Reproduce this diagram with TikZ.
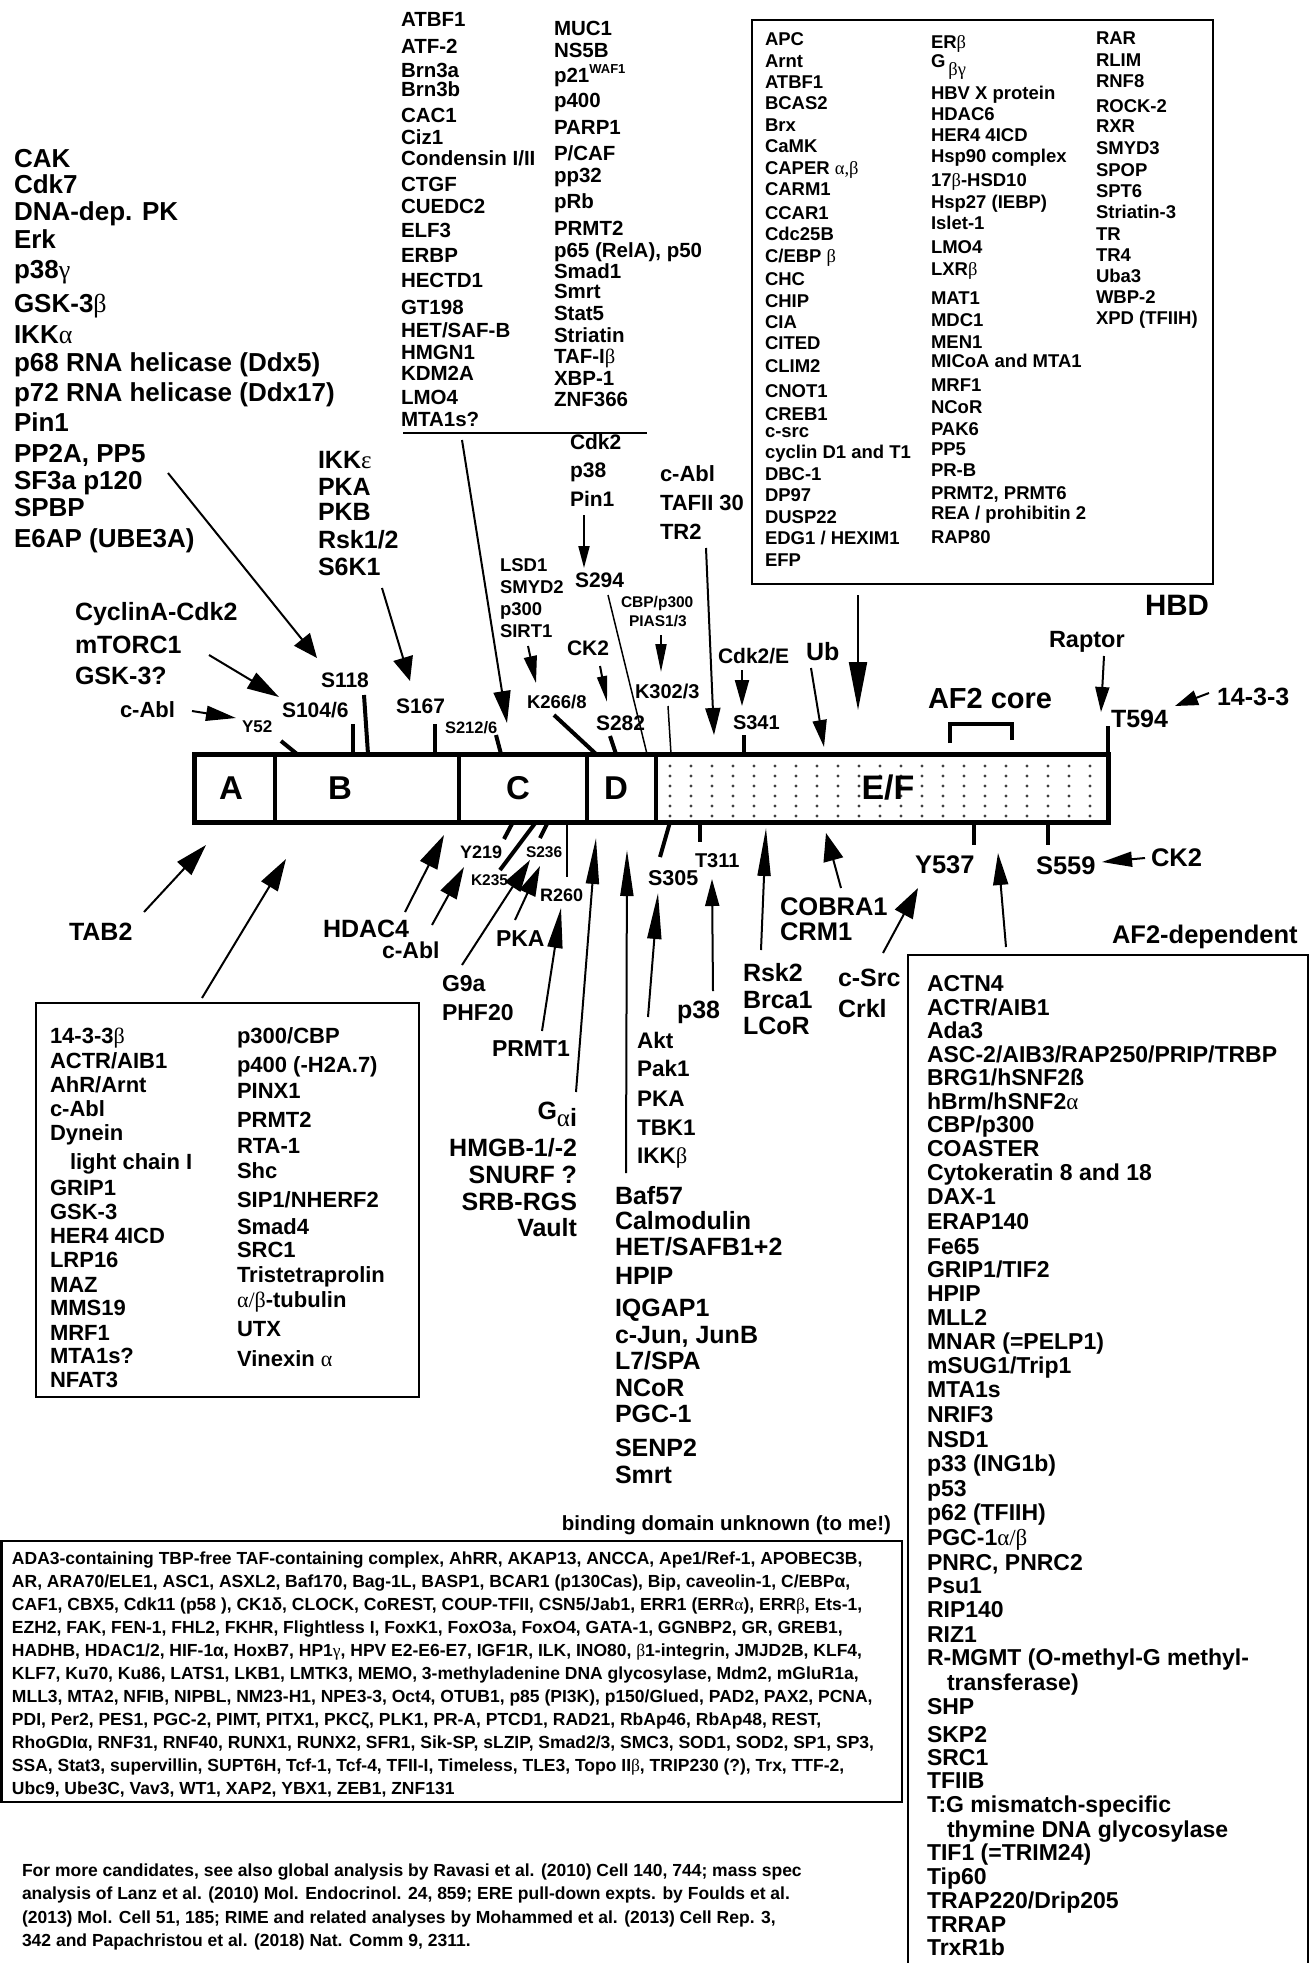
\documentclass[tikz,border=0pt]{standalone}
\usepackage{fontspec}
\setmainfont{Liberation Sans}
\newfontfamily\grkfont{Liberation Serif}
\usetikzlibrary{arrows.meta}
\newcommand\gk[1]{{\grkfont\mdseries #1}}
\newcommand\fsz[1]{\fontsize{#1}{#1}\selectfont\bfseries}
\newcommand\vlist[4]{\foreach \yy/\tx [count=\ii] in {#4}{\node[lbl,font=\fsz{#3}] (#1\ii) at (#2,\yy) {\tx};}}
\tikzset{
  lbl/.style={anchor=base west,inner sep=0pt,outer sep=0pt},
  lblr/.style={anchor=base east,inner sep=0pt,outer sep=0pt},
  lblc/.style={anchor=base,inner sep=0pt,outer sep=0pt},
  arr/.style 2 args={line width=2pt,-{Triangle[length=#1pt,width=#2pt]}},
  thinline/.style={line width=1.5pt},
  tickline/.style={line width=4pt},
  boxline/.style={line width=2.5pt},
}
\begin{document}
\begin{tikzpicture}[x=1pt,y=-1pt]
\fill[white] (0,0) rectangle (1316,1963);
\useasboundingbox (0,0) rectangle (1316,1963);

% ---------- top-left kinase list
\vlist{LL}{14}{26}{167/CAK,193/Cdk7,220/DNA-dep. PK,248/Erk,278/{p38\gk{γ}},312/{GSK-3\gk{β}},343/{IKK\gk{α}},371/{p68 RNA helicase (Ddx5)},401/{p72 RNA helicase (Ddx17)},431/Pin1,462/{PP2A, PP5},489/SF3a p120,516/SPBP,547/E6AP (UBE3A)}
\vlist{IK}{318}{25}{468/{IKK\gk{ε}},495/PKA,520/PKB,548/{Rsk1/2},575/S6K1}
\vlist{CY}{75}{25}{620/CyclinA-Cdk2,653/mTORC1,684/GSK-3?}
\node[lbl,font=\fsz{22}] (cablt) at (120,717) {c-Abl};

% ---------- top middle two-column list
\vlist{TA}{401}{20.5}{26/ATBF1,53/ATF-2,77/Brn3a,96/Brn3b,122/CAC1,144/Ciz1,165/{Condensin I/II},191/CTGF,213/CUEDC2,237/ELF3,262/ERBP,287/HECTD1,314/GT198,337/{HET/SAF-B},359/HMGN1,380/KDM2A,404/LMO4,426/MTA1s?}
\vlist{TB}{554}{20.5}{35/MUC1,57/NS5B,82/{p21\raisebox{9pt}{\fsz{13}WAF1}},107/p400,134/PARP1,160/{P/CAF},182/pp32,208/pRb,235/PRMT2,257/{p65 (RelA), p50},278/Smad1,298/Smrt,320/Stat5,342/Striatin,363/{TAF-I\gk{β}},385/XBP-1,406/ZNF366}
\coordinate (ulA) at (403,433); \coordinate (ulB) at (647,433);
\draw[line width=2pt] (ulA) -- (ulB);

% ---------- HBD box
\draw[boxline] (752,20) rectangle (1213,584);
\vlist{HA}{765}{18.5}{45/APC,67/Arnt,88/ATBF1,109/BCAS2,131/Brx,152/CaMK,174/{CAPER \gk{α,β}},195/CARM1,219/CCAR1,240/Cdc25B,262/{C/EBP \gk{β}},285/CHC,307/CHIP,328/CIA,349/CITED,372/CLIM2,397/CNOT1,420/CREB1,437/c-src,458/cyclin D1 and T1,480/DBC-1,501/DP97,523/DUSP22,544/{EDG1 / HEXIM1},566/EFP}
\vlist{HB}{931}{18.5}{48/{ER\gk{β}},67/{G\,\raisebox{-8pt}{\gk{βγ}}},99/HBV X protein,120/HDAC6,141/HER4 4ICD,162/Hsp90 complex,186/{17\gk{β}-HSD10},208/Hsp27 (IEBP),229/Islet-1,253/LMO4,275/{LXR\gk{β}},304/MAT1,326/MDC1,348/MEN1,367/MICoA and MTA1,391/MRF1,413/NCoR,435/PAK6,455/PP5,476/PR-B,499/{PRMT2, PRMT6},519/{REA / prohibitin 2},543/RAP80}
\vlist{HC}{1096}{18.5}{44/RAR,66/RLIM,87/RNF8,112/ROCK-2,132/RXR,154/SMYD3,176/SPOP,197/SPT6,218/Striatin-3,240/TR,261/TR4,282/Uba3,303/WBP-2,324/XPD (TFIIH)}
\node[lbl,font=\fsz{29.5}] (hbd) at (1145,615) {HBD};

% ---------- small labels above bar
\node[lbl,font=\fsz{17}] (y52) at (242,732) {Y52};
\node[lbl,font=\fsz{21}] (s104) at (282,717) {S104/6};
\node[lbl,font=\fsz{21}] (s118) at (321,687) {S118};
\node[lbl,font=\fsz{21}] (s167) at (396,713) {S167};
\node[lbl,font=\fsz{16.5}] (s212) at (445,733) {S212/6};
\vlist{LS}{500}{18.5}{571/LSD1,593/SMYD2,615/p300,637/SIRT1}
\node[lbl,font=\fsz{18.5}] (k266) at (527,708) {K266/8};
\node[lbl,font=\fsz{21}] (ck2t) at (567,655) {CK2};
\node[lbl,font=\fsz{21}] (s282) at (596,730) {S282};
\vlist{CD}{570}{21}{449/Cdk2,477/p38,506/Pin1}
\node[lbl,font=\fsz{21}] (s294) at (575,587) {S294};
\node[lbl,font=\fsz{15.5}] (cbp) at (621,607) {CBP/p300};
\node[lbl,font=\fsz{15.5}] (pias) at (629,626) {PIAS1/3};
\node[lbl,font=\fsz{20}] (k302) at (635,698) {K302/3};
\vlist{TF}{660}{22}{481/c-Abl,510/TAFII 30,539/TR2}
\node[lbl,font=\fsz{21}] (cdk2e) at (718,663) {Cdk2/E};
\node[lbl,font=\fsz{20}] (s341) at (733,729) {S341};
\node[lbl,font=\fsz{25}] (ub) at (806,660) {Ub};
\node[lbl,font=\fsz{29}] (af2c) at (928,708) {AF2 core};
\node[lbl,font=\fsz{23.5}] (raptor) at (1049,647) {Raptor};
\node[lbl,font=\fsz{25}] (t594) at (1111,727) {T594};
\node[lbl,font=\fsz{25}] (f1433) at (1217,705) {14-3-3};

% ---------- the bar
\foreach \dx in {0,...,20}{\foreach \dy in {0,...,5}{\fill[black!75] ({670+21*\dx},{766+10*\dy}) circle (1.6);}}
\draw[line width=5pt] (194,754) rectangle (1108,822);
\foreach \xx in {275,459,587,656}{\draw[tickline] (\xx,754) -- (\xx,822);}
\node[font=\fsz{33}] (dA) at (231,788) {A};
\node[font=\fsz{33}] (dB) at (340,788) {B};
\node[font=\fsz{33}] (dC) at (518,788) {C};
\node[font=\fsz{33}] (dD) at (616,788) {D};
\node[font=\fsz{34}] (dEF) at (888,788) {E/F};
\draw[tickline] (950,743) -- (950,724) -- (1012,724) -- (1012,740);

% ticks above
\draw[tickline] (281,741) -- (297,754);
\draw[tickline] (353,724) -- (353,754);
\draw[tickline] (364,695) -- (368,754);
\draw[tickline] (435,724) -- (435,754);
\draw[tickline] (496,735) -- (501,754);
\draw[tickline] (554,715) -- (596,754);
\draw[tickline] (610,736) -- (616,754);
\draw[thinline] (608,595) -- (647,754);
\draw[thinline] (668,706) -- (671,754);
\draw[tickline] (744,735) -- (744,754);
\draw[tickline] (1108,726) -- (1108,754);
% ticks below
\draw[tickline] (513,822) -- (504,839);
\draw[tickline] (536,822) -- (500,870);
\draw[tickline] (548,822) -- (540,838);
\draw[thinline] (567,822) -- (567,877);
\draw[tickline] (670,822) -- (660,857);
\draw[tickline] (700,822) -- (700,842);
\draw[tickline] (974,822) -- (974,845);
\draw[tickline] (1048,822) -- (1048,845);

% ---------- arrows above
\draw[arr={30}{15}] (192,711) coordinate (a1s) -- (236,718) coordinate (a1e);
\draw[arr={32}{18}] (209,655) coordinate (a2s) -- (279,697) coordinate (a2e);
\draw[arr={24}{20}] (168,473) coordinate (a3s) -- (317,658) coordinate (a3e);
\draw[arr={24}{20}] (382,588) coordinate (a4s) -- (410,681) coordinate (a4e);
\draw[arr={32}{17}] (462,440) coordinate (a5s) -- (507,723) coordinate (a5e);
\draw[arr={27}{13}] (528,646) coordinate (a6s) -- (536,683) coordinate (a6e);
\draw[arr={26}{10}] (600,666) coordinate (a7s) -- (607,702) coordinate (a7e);
\draw[arr={22}{11}] (584,515) coordinate (a8s) -- (584,568) coordinate (a8e);
\draw[arr={28}{11}] (661,635) coordinate (a9s) -- (661,672) coordinate (a9e);
\draw[arr={27}{15}] (706,548) coordinate (a10s) -- (714,735) coordinate (a10e);
\draw[arr={26}{14}] (742,670) coordinate (a11s) -- (742,706) coordinate (a11e);
\draw[arr={27}{14}] (811,668) coordinate (a12s) -- (824,747) coordinate (a12e);
\draw[arr={48}{18}] (858,595) coordinate (a13s) -- (858,710) coordinate (a13e);
\draw[arr={25}{14}] (1104,656) coordinate (a14s) -- (1101,712) coordinate (a14e);
\draw[arr={23}{15}] (1209,693) coordinate (a15s) -- (1175,706) coordinate (a15e);

% ---------- labels below bar
\node[lbl,font=\fsz{18}] (y219) at (460,858) {Y219};
\node[lbl,font=\fsz{15.5}] (k235) at (471,885) {K235};
\node[lbl,font=\fsz{15.5}] (s236) at (526,857) {S236};
\node[lbl,font=\fsz{18}] (r260) at (540,901) {R260};
\node[lbl,font=\fsz{21.5}] (s305) at (648,885) {S305};
\node[lbl,font=\fsz{20}] (t311) at (695,867) {T311};
\node[lbl,font=\fsz{25.5}] (y537) at (915,873) {Y537};
\node[lbl,font=\fsz{25.5}] (s559) at (1036,874) {S559};
\node[lbl,font=\fsz{25.5}] (ck2b) at (1151,866) {CK2};
\node[lbl,font=\fsz{25.5}] (af2dep) at (1112,943) {AF2-dependent};
\vlist{CO}{780}{25.5}{915/COBRA1,940/CRM1}
\vlist{RS}{743}{25}{981/Rsk2,1008/Brca1,1034/LCoR}
\vlist{CS}{838}{25}{986/c-Src,1017/Crkl}
\node[lbl,font=\fsz{25}] (p38b) at (677,1018) {p38};
\vlist{AK}{637}{22.5}{1048/Akt,1076/Pak1,1106/PKA,1135/TBK1,1163/{IKK\gk{β}}}
\vlist{BF}{615}{25}{1204/Baf57,1229/Calmodulin,1255/{HET/SAFB1+2},1284/HPIP,1316/IQGAP1,1343/{c-Jun, JunB},1369/{L7/SPA},1396/NCoR,1422/PGC-1,1456/SENP2,1483/Smrt}
\node[lblr,font=\fsz{25}] (gai) at (577,1119) {G\raisebox{-7pt}{\gk{α}i}};
\node[lblr,font=\fsz{25}] (hmgb) at (577,1156) {HMGB-1/-2};
\node[lblr,font=\fsz{25}] (snurf) at (577,1183) {SNURF ?};
\node[lblr,font=\fsz{25}] (srb) at (577,1210) {SRB-RGS};
\node[lblr,font=\fsz{25}] (vault) at (577,1236) {Vault};
\node[lbl,font=\fsz{23}] (prmt1) at (492,1056) {PRMT1};
\vlist{G9}{442}{23}{991/G9a,1020/PHF20}
\node[lbl,font=\fsz{23}] (pkab) at (496,946) {PKA};
\node[lbl,font=\fsz{23}] (cablb) at (382,958) {c-Abl};
\node[lbl,font=\fsz{25}] (hdac4) at (323,937) {HDAC4};
\node[lbl,font=\fsz{25}] (tab2) at (69,940) {TAB2};

% ---------- arrows below
\draw[arr={32}{19}] (144,912) coordinate (b1s) -- (206,845) coordinate (b1e);
\draw[arr={32}{19}] (202,998) coordinate (b2s) -- (286,859) coordinate (b2e);
\draw[arr={34}{19}] (405,912) coordinate (b3s) -- (444,835) coordinate (b3e);
\draw[arr={32}{18}] (432,925) coordinate (b4s) -- (464,867) coordinate (b4e);
\draw[arr={32}{18}] (462,965) coordinate (b5s) -- (530,860) coordinate (b5e);
\draw[arr={30}{17}] (515,920) coordinate (b6s) -- (540,866) coordinate (b6e);
\draw[arr={40}{15}] (542,1031) coordinate (b7s) -- (561,908) coordinate (b7e);
\draw[arr={46}{13}] (576,1092) coordinate (b8s) -- (596,838) coordinate (b8e);
\draw[arr={46}{13}] (626,1173) coordinate (b9s) -- (627,850) coordinate (b9e);
\draw[arr={46}{14}] (648,1017) coordinate (b10s) -- (658,893) coordinate (b10e);
\draw[arr={27}{14}] (713,991) coordinate (b11s) -- (712,879) coordinate (b11e);
\draw[arr={48}{13}] (761,950) coordinate (b12s) -- (766,828) coordinate (b12e);
\draw[arr={28}{20}] (841,888) coordinate (b13s) -- (826,833) coordinate (b13e);
\draw[arr={30}{20}] (883,953) coordinate (b14s) -- (918,888) coordinate (b14e);
\draw[arr={32}{15}] (1006,947) coordinate (b15s) -- (998,853) coordinate (b15e);
\draw[arr={30}{15}] (1145,858) coordinate (b16s) -- (1102,862) coordinate (b16e);

% ---------- left-bottom box
\draw[boxline] (36,1003) rectangle (419,1397);
\vlist{BA}{50}{22}{1043/{14-3-3\gk{β}},1068/{ACTR/AIB1},1092/{AhR/Arnt},1116/c-Abl,1140/Dynein,1195/GRIP1,1219/GSK-3,1243/HER4 4ICD,1267/LRP16,1292/MAZ,1315/MMS19,1340/MRF1,1363/MTA1s?,1387/NFAT3}
\node[lbl,font=\fsz{22}] (lchain) at (70,1169) {light chain I};
\vlist{BB}{237}{22}{1043/{p300/CBP},1072/{p400 (-H2A.7)},1098/PINX1,1127/PRMT2,1153/RTA-1,1178/Shc,1207/{SIP1/NHERF2},1234/Smad4,1257/SRC1,1282/Tristetraprolin,1307/{\gk{α/β}-tubulin},1336/UTX,1366/{Vinexin \gk{α}}}

% ---------- AF2-dependent box
\draw[boxline] (908,1963) -- (908,955) -- (1308,955) -- (1308,1963);
\vlist{AF}{927}{23}{991/ACTN4,1015/{ACTR/AIB1},1038/Ada3,1062/{ASC-2/AIB3/RAP250/PRIP/TRBP},1085/{BRG1/hSNF2ß},1109/{hBrm/hSNF2\gk{α}},1132/{CBP/p300},1156/COASTER,1180/Cytokeratin 8 and 18,1204/DAX-1,1229/ERAP140,1254/Fe65,1277/{GRIP1/TIF2},1301/HPIP,1325/MLL2,1349/{MNAR (=PELP1)},1373/{mSUG1/Trip1},1397/MTA1s,1422/NRIF3,1447/NSD1,1471/p33 (ING1b),1496/p53,1520/p62 (TFIIH),1545/{PGC-1\gk{α/β}},1570/{PNRC, PNRC2},1593/Psu1,1617/RIP140,1642/RIZ1,1665/R-MGMT (O-methyl-G methyl-,1714/SHP,1742/SKP2,1765/SRC1,1788/TFIIB,1812/T:G mismatch-specific,1860/TIF1 (=TRIM24),1884/Tip60,1908/{TRAP220/Drip205},1932/TRRAP,1955/TrxR1b}
\node[lbl,font=\fsz{23}] (transf) at (947,1690) {transferase)};
\node[lbl,font=\fsz{23}] (thym) at (947,1837) {thymine DNA glycosylase};

% ---------- binding domain unknown box
\node[lblr,font=\fsz{20.5}] (bdu) at (891,1530) {binding domain unknown (to me!)};
\draw[boxline] (1.5,1541) rectangle (902,1802);
\begin{scope}[every node/.style={lbl,font=\fsz{17.5}}]
\node (u1) at (12,1564) {ADA3-containing TBP-free TAF-containing complex, AhRR, AKAP13, ANCCA, Ape1/Ref-1, APOBEC3B,};
\node (u2) at (12,1587) {AR, ARA70/ELE1, ASC1, ASXL2, Baf170, Bag-1L, BASP1, BCAR1 (p130Cas), Bip, caveolin-1, C/EBPα,};
\node (u3) at (12,1610) {CAF1, CBX5, Cdk11 (p58 ), CK1δ, CLOCK, CoREST, COUP-TFII, CSN5/Jab1, ERR1 (ERR\gk{α}), ERR\gk{β}, Ets-1,};
\node (u4) at (12,1633) {EZH2, FAK, FEN-1, FHL2, FKHR, Flightless I, FoxK1, FoxO3a, FoxO4, GATA-1, GGNBP2, GR, GREB1,};
\node (u5) at (12,1656) {HADHB, HDAC1/2, HIF-1α, HoxB7, HP1\gk{γ}, HPV E2-E6-E7, IGF1R, ILK, INO80, \gk{β}1-integrin, JMJD2B, KLF4,};
\node (u6) at (12,1679) {KLF7, Ku70, Ku86, LATS1, LKB1, LMTK3, MEMO, 3-methyladenine DNA glycosylase, Mdm2, mGluR1a,};
\node (u7) at (12,1702) {MLL3, MTA2, NFIB, NIPBL, NM23-H1, NPE3-3, Oct4, OTUB1, p85 (PI3K), p150/Glued, PAD2, PAX2, PCNA,};
\node (u8) at (12,1725) {PDI, Per2, PES1, PGC-2, PIMT, PITX1, PKCζ, PLK1, PR-A, PTCD1, RAD21, RbAp46, RbAp48, REST,};
\node (u9) at (12,1748) {RhoGDIα, RNF31, RNF40, RUNX1, RUNX2, SFR1, Sik-SP, sLZIP, Smad2/3, SMC3, SOD1, SOD2, SP1, SP3,};
\node (u10) at (12,1771) {SSA, Stat3, supervillin, SUPT6H, Tcf-1, Tcf-4, TFII-I, Timeless, TLE3, Topo II\gk{β}, TRIP230 (?), Trx, TTF-2,};
\node (u11) at (12,1794) {Ubc9, Ube3C, Vav3, WT1, XAP2, YBX1, ZEB1, ZNF131};
\end{scope}

% ---------- footer
\begin{scope}[every node/.style={lbl,font=\fsz{17.5}}]
\node (f1) at (22,1876) {For more candidates, see also global analysis by Ravasi et al. (2010) Cell 140, 744; mass spec};
\node (f2) at (22,1899) {analysis of Lanz et al. (2010) Mol. Endocrinol. 24, 859; ERE pull-down expts. by Foulds et al.};
\node (f3) at (22,1923) {(2013) Mol. Cell 51, 185; RIME and related analyses by Mohammed et al. (2013) Cell Rep. 3,};
\node (f4) at (22,1946) {342 and Papachristou et al. (2018) Nat. Comm 9, 2311.};
\end{scope}
\end{tikzpicture}
\end{document}
